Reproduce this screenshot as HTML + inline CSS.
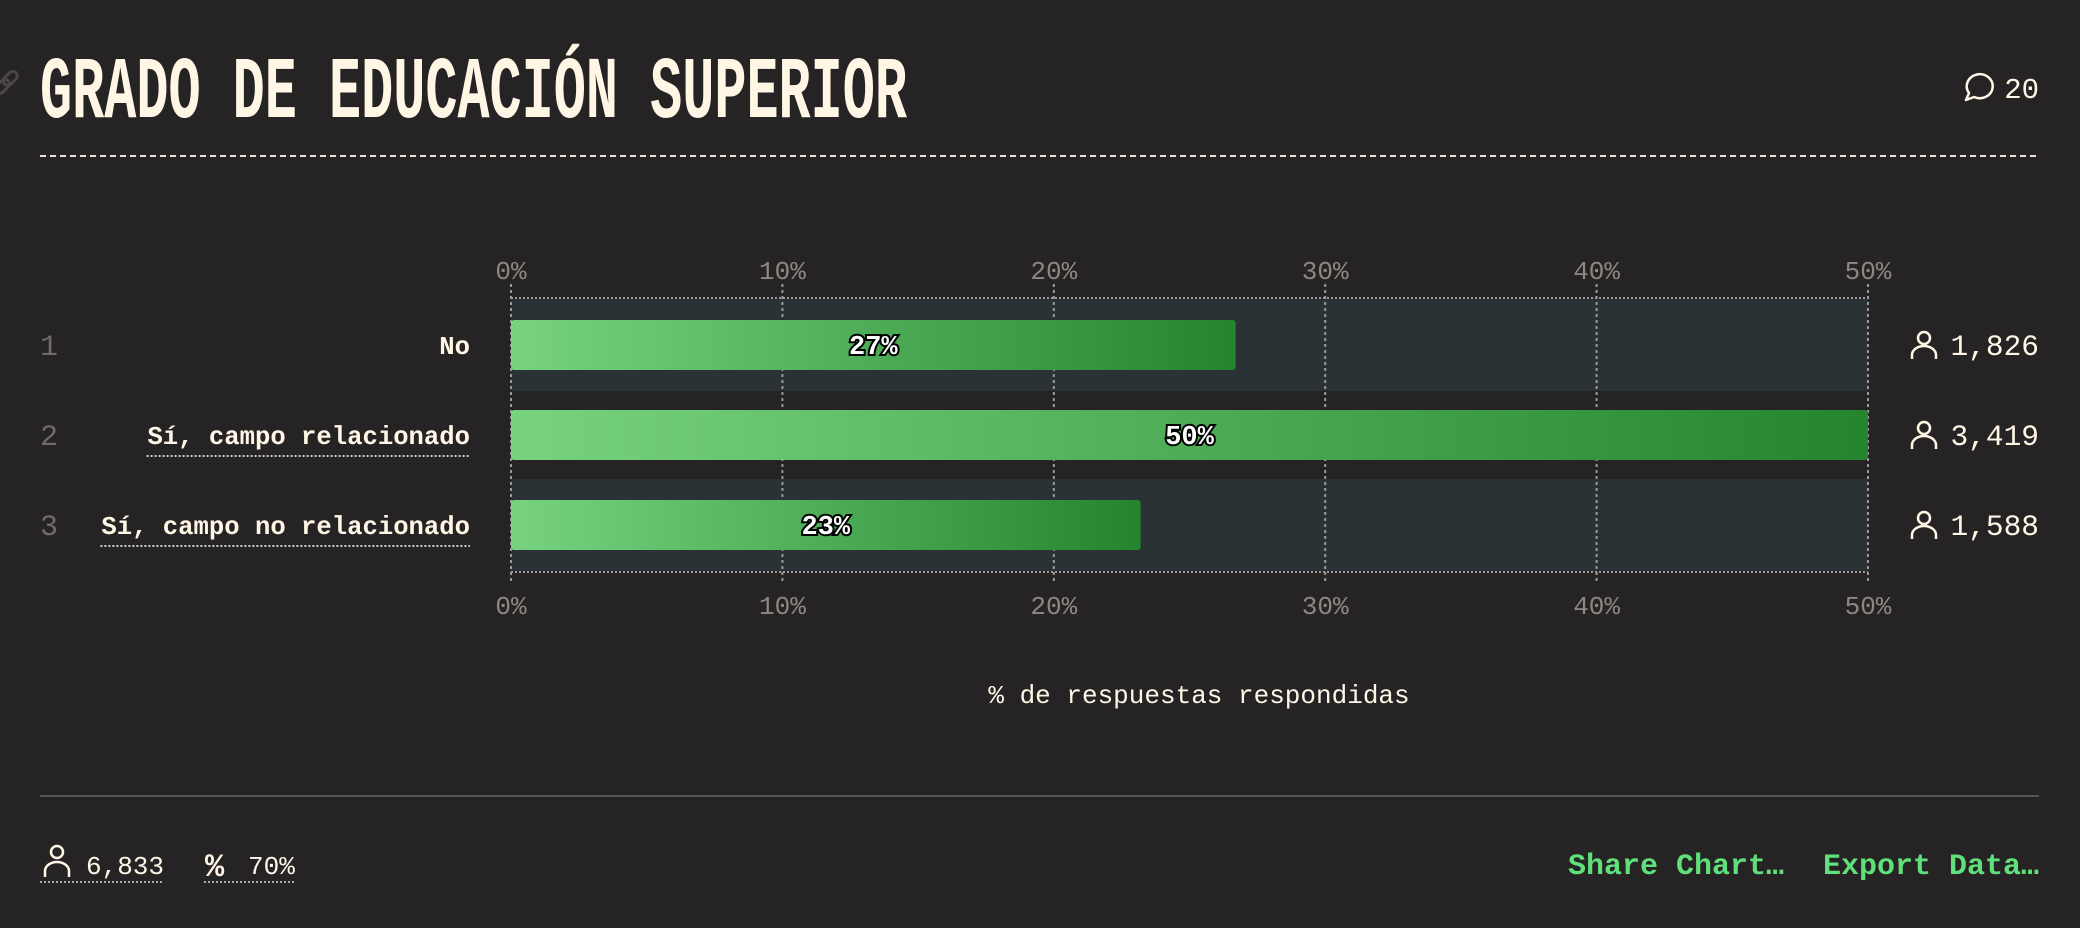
<!DOCTYPE html>
<html><head><meta charset="utf-8">
<style>
html,body{margin:0;padding:0;background:#262324;}
svg{display:block;}
text{font-family:"Liberation Mono",monospace;}
</style></head>
<body>
<svg id="chart" width="2080" height="928" viewBox="0 0 2080 928" xmlns="http://www.w3.org/2000/svg">
<defs>
<linearGradient id="barGrad" x1="0" x2="1" y1="0" y2="0">
<stop offset="0" stop-color="#77d37f"/><stop offset="1" stop-color="#25852f"/>
</linearGradient>
</defs>
<rect width="2080" height="928" fill="#262324"/>
<g fill="none" stroke="#4a4646" stroke-width="3">
<rect x="-6" y="82" width="16" height="9" rx="4.5" transform="rotate(-45 2 86)"/>
<rect x="2" y="74" width="16" height="9" rx="4.5" transform="rotate(-45 10 78)"/>
</g>
<text x="40" y="117" font-family="'Liberation Sans Narrow','Liberation Sans',sans-serif" font-weight="bold" font-size="88" fill="#fff6e6" textLength="867" lengthAdjust="spacingAndGlyphs">GRADO DE EDUCACIÓN SUPERIOR</text>
<g>
<path d="M1966 100 l3 -7 a13 12 0 1 1 5 4 z" fill="none" stroke="#fff6e6" stroke-width="2.5" stroke-linejoin="round"/>
<text x="2039" y="98" text-anchor="end" font-size="29" fill="#fff6e6">20</text>
</g>
<line x1="40" y1="156" x2="2039" y2="156" stroke="#e8e2d8" stroke-width="2" stroke-dasharray="6 4"/>
<g id="grid"></g>
<g id="rows"></g>
<text x="1199" y="703" text-anchor="middle" font-size="26" fill="#fff6e6">% de respuestas respondidas</text>
<line x1="40" y1="796" x2="2039" y2="796" stroke="#555" stroke-width="2"/>
<g>
<circle cx="57" cy="852" r="6" fill="none" stroke="#fff6e6" stroke-width="2.5"/>
<path d="M45 877 v-6 a12 9 0 0 1 24 0 v6" fill="none" stroke="#fff6e6" stroke-width="2.5"/>
<text x="86" y="874" font-size="26" fill="#fff6e6">6,833</text>
<line x1="40" y1="882" x2="163" y2="882" stroke="#aaa" stroke-width="2" stroke-dasharray="2 2"/>
</g>
<g>
<text x="205" y="876" font-size="32" font-weight="bold" fill="#fff6e6">%</text>
<text x="248" y="874" font-size="26" fill="#fff6e6">70%</text>
<line x1="204" y1="882" x2="295" y2="882" stroke="#aaa" stroke-width="2" stroke-dasharray="2 2"/>
</g>
<text x="1784" y="874" text-anchor="end" font-size="30" font-weight="bold" fill="#5fe07a">Share Chart…</text>
<text x="2039" y="874" text-anchor="end" font-size="30" font-weight="bold" fill="#5fe07a">Export Data…</text>
</svg>
<script>
const categories = ["No", "Sí, campo relacionado", "Sí, campo no relacionado"];
const percentValues = [26.7, 50, 23.2];
const percentLabels = ["27%", "50%", "23%"];
const counts = ["1,826", "3,419", "1,588"];
const tickValues = [0, 10, 20, 30, 40, 50];
const tickLabels = ["0%", "10%", "20%", "30%", "40%", "50%"];

const NS = "http://www.w3.org/2000/svg";
const X0 = 511, X1 = 1868, XMAX = 50;
const xScale = v => X0 + (v / XMAX) * (X1 - X0);
const ROW0 = 345, ROWH = 90;
const yScale = i => ROW0 + i * ROWH;
function mk(tag, attrs, parent) {
  const e = document.createElementNS(NS, tag);
  for (const k in attrs) e.setAttribute(k, attrs[k]);
  parent.appendChild(e);
  return e;
}
const grid = document.getElementById("grid");
const rows = document.getElementById("rows");

categories.forEach((c, i) => {
  if (i % 2 === 0) {
    const t = mk("rect", {x: X0, y: yScale(i) - 46, width: X1 - X0, height: 92, fill: "#2b3236"}, grid);
    
    
  }
});
const topY = yScale(0) - 47, botY = yScale(categories.length - 1) + 47;
const hl1 = mk("line", {x1: X0, x2: X1, y1: topY, y2: topY, stroke: "#999", "stroke-width": 2, "stroke-dasharray": "2 2"}, grid);


const hl2 = mk("line", {x1: X0, x2: X1, y1: botY, y2: botY, stroke: "#999", "stroke-width": 2, "stroke-dasharray": "2 2"}, grid);


tickValues.forEach((v, i) => {
  const x = xScale(v);
  const gl = mk("line", {x1: x, x2: x, y1: topY - 14, y2: botY + 10, stroke: "#999", "stroke-width": 2, "stroke-dasharray": "3 3"}, grid);
  
  
  const t1 = mk("text", {x: x, y: 279, "text-anchor": "middle", "font-size": 26, fill: "#8c8781"}, grid);
  t1.textContent = tickLabels[i];
  
  
  const t2 = mk("text", {x: x, y: 614, "text-anchor": "middle", "font-size": 26, fill: "#8c8781"}, grid);
  t2.textContent = tickLabels[i];
  
  
});

categories.forEach((c, i) => {
  const cy = yScale(i);
  const num = mk("text", {x: 40, y: cy + 10, "font-size": 30, fill: "#6f6b68"}, rows);
  num.textContent = String(i + 1);
  
  
  const lab = mk("text", {x: 470, y: cy + 9, "text-anchor": "end", "font-size": 25.6, "font-weight": "bold", fill: "#fff6e6"}, rows);
  lab.textContent = c;
  
  
  if (i > 0) {
    const w = c.length * 15.4;
    const ul = mk("line", {x1: 470 - w, x2: 470, y1: cy + 21, y2: cy + 21, stroke: "#ccc", "stroke-width": 2, "stroke-dasharray": "2 2"}, rows);
    
    
  }
  const bw = xScale(percentValues[i]) - X0;
  const bar = mk("rect", {x: X0, y: cy - 25, width: bw, height: 50, rx: 3, fill: "url(#barGrad)"}, rows);
  
  
  const pl = mk("text", {x: X0 + bw / 2, y: cy + 9, "text-anchor": "middle", "font-size": 27, "font-weight": "bold", fill: "#fff", stroke: "#000", "stroke-width": 4, "paint-order": "stroke"}, rows);
  pl.textContent = percentLabels[i];
  
  
  const ig = mk("g", {}, rows);
  
  
  mk("circle", {cx: 1924, cy: cy - 7, r: 6, fill: "none", stroke: "#fff6e6", "stroke-width": 2.5}, ig);
  mk("path", {d: `M1912 ${cy + 14} v-4 a12 9 0 0 1 24 0 v4`, fill: "none", stroke: "#fff6e6", "stroke-width": 2.5}, ig);
  const ct = mk("text", {x: 2039, y: cy + 10, "text-anchor": "end", "font-size": 29.5, fill: "#fff6e6"}, rows);
  ct.textContent = counts[i];
  
  
});
</script>
</body></html>
